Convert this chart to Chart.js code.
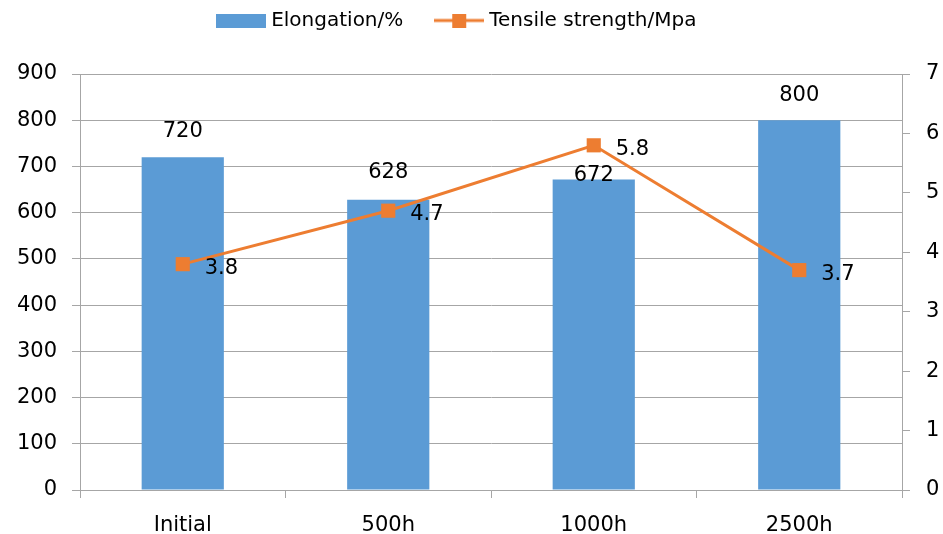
<!DOCTYPE html>
<html>
<head>
<meta charset="utf-8">
<script src="https://cdn.jsdelivr.net/npm/chart.js@4.4.1/dist/chart.umd.min.js"></script>
<style>
    html, body { margin: 0; padding: 0; background: #fff; }
    #wrap { width: 943px; height: 534px; }
</style>
</head>
<body>
<div id="wrap"><canvas id="chart" width="943" height="534"></canvas></div>
<script>
const categories = ['Initial', '500h', '1000h', '2500h'];
const elongation = [720, 628, 672, 800];
const tensile = [3.8, 4.7, 5.8, 3.7];
const leftTicks = [0, 100, 200, 300, 400, 500, 600, 700, 800, 900];
const rightTicks = [0, 1, 2, 3, 4, 5, 6, 7];

const barColor = '#5B9BD5';
const lineColor = '#ED7D31';
const gridColor = '#A6A6A6';
const fontFamily = '"DejaVu Sans", sans-serif';

// legend swatches
function swatch(kind) {
    const c = document.createElement('canvas');
    c.width = 50; c.height = 14;
    const g = c.getContext('2d');
    if (kind === 'bar') {
        g.fillStyle = barColor;
        g.fillRect(0, 0, 50, 14);
    } else {
        g.strokeStyle = lineColor;
        g.lineWidth = 3;
        g.beginPath(); g.moveTo(0, 7); g.lineTo(50, 7); g.stroke();
        g.fillStyle = lineColor;
        g.fillRect(18, 0, 14, 14);
    }
    return c;
}
const swatches = [swatch('bar'), swatch('line')];

// value labels
const valueLabels = {
    id: 'valueLabels',
    afterDatasetsDraw(chart) {
        const ctx = chart.ctx;
        ctx.save();
        ctx.font = '21px ' + fontFamily;
        ctx.fillStyle = '#000';
        ctx.textBaseline = 'middle';

        const barLift = [26, 27, 4, 25];
        ctx.textAlign = 'center';
        chart.getDatasetMeta(0).data.forEach((el, i) => {
            ctx.fillText(String(elongation[i]), el.x, el.y - barLift[i]);
        });

        ctx.textAlign = 'left';
        chart.getDatasetMeta(1).data.forEach((el, i) => {
            ctx.fillText(tensile[i].toFixed(1), el.x + 22, el.y + 4);
        });
        ctx.restore();
    }
};

const ctx = document.getElementById('chart');

new Chart(ctx, {
    data: {
        labels: categories,
        datasets: [{
            type: 'bar',
            label: 'Elongation/%',
            data: elongation,
            backgroundColor: barColor,
            yAxisID: 'y',
            barPercentage: 0.4,
            categoryPercentage: 1,
            order: 2
        }, {
            type: 'line',
            label: 'Tensile strength/Mpa',
            data: tensile,
            borderColor: lineColor,
            backgroundColor: lineColor,
            borderWidth: 3,
            pointStyle: 'rect',
            pointRadius: 10,
            pointBorderWidth: 0,
            tension: 0,
            yAxisID: 'y1',
            order: 1
        }]
    },
    options: {
        responsive: false,
        animation: false,
        layout: { padding: 0 },
        plugins: {
            tooltip: { enabled: false },
            // empty title used as a spacer between legend and plot
            title: {
                display: true,
                text: '',
                weight: 500,
                font: { size: 10 },
                padding: { top: 0, bottom: 21.5 }
            },
            legend: {
                position: 'top',
                labels: {
                    color: '#000',
                    font: { family: fontFamily, size: 20 },
                    usePointStyle: true,
                    pointStyleWidth: 40,
                    padding: 10.5,
                    generateLabels: (chart) => chart.data.datasets.map((ds, i) => ({
                        text: ds.label + '    ',
                        pointStyle: swatches[i],
                        fillStyle: 'transparent',
                        strokeStyle: 'transparent',
                        lineWidth: 0,
                        datasetIndex: i
                    }))
                }
            }
        },
        scales: {
            x: {
                grid: { drawOnChartArea: false, offset: true, tickLength: 8, color: gridColor },
                border: { color: gridColor },
                ticks: { color: '#000', font: { family: fontFamily, size: 21 }, padding: 15 },
                afterFit: (s) => { s.height = 44; }
            },
            y: {
                position: 'left',
                min: 0,
                max: 900,
                afterBuildTicks: (s) => { s.ticks = leftTicks.map(v => ({ value: v })); },
                grid: { color: gridColor, tickLength: 8 },
                border: { color: gridColor },
                ticks: { color: '#000', font: { family: fontFamily, size: 21 }, padding: 15 },
                afterFit: (s) => { s.width = 80; }
            },
            y1: {
                position: 'right',
                min: 0,
                max: 7,
                afterBuildTicks: (s) => { s.ticks = rightTicks.map(v => ({ value: v })); },
                grid: { drawOnChartArea: false, color: gridColor, tickLength: 8 },
                border: { color: gridColor },
                ticks: { color: '#000', font: { family: fontFamily, size: 21 }, padding: 16 },
                afterFit: (s) => { s.width = 41; }
            }
        }
    },
    plugins: [valueLabels]
});
</script>
</body>
</html>
